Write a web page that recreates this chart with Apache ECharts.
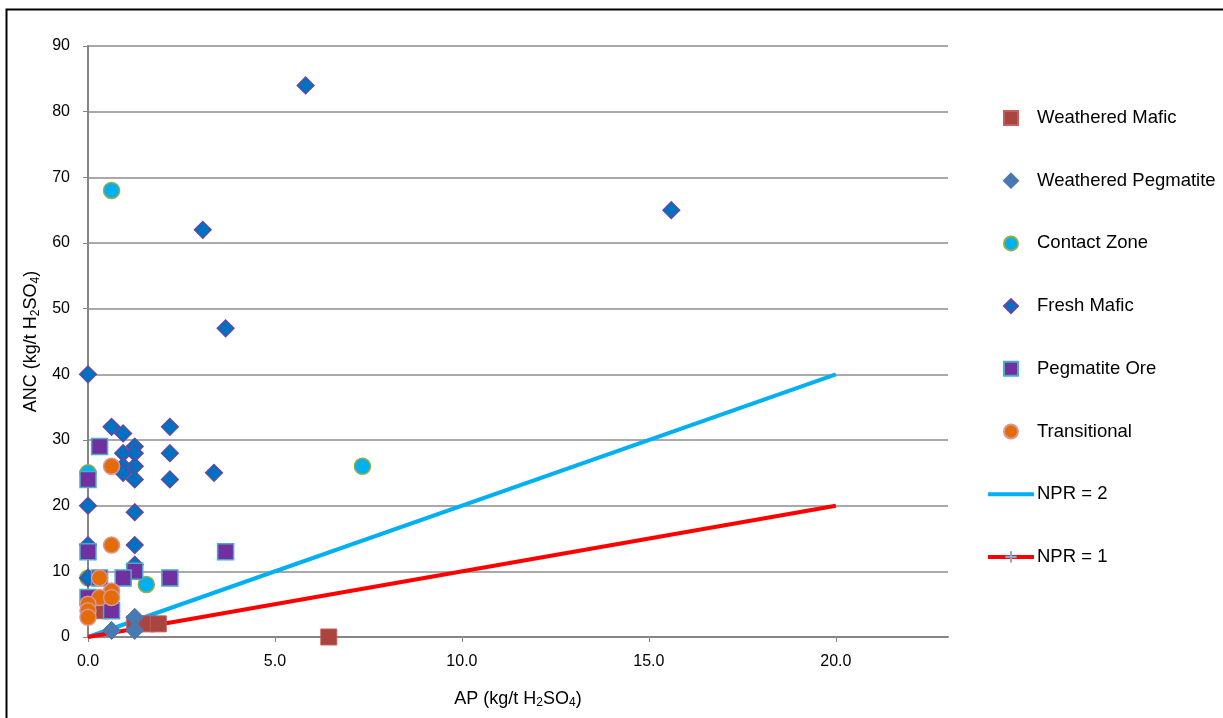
<!DOCTYPE html>
<html>
<head>
<meta charset="utf-8">
<script src="https://cdn.jsdelivr.net/npm/echarts@6/dist/echarts.min.js"></script>
<style>
html,body{margin:0;padding:0;background:#fff;}
#c{width:1223px;height:718px;}
</style>
</head>
<body>
<div id="c"></div>
<script>
// Data: [AP, ANC]
const weatheredMafic = [[0.31,4],[1.25,2],[1.56,2],[1.88,2],[6.44,0]];
const weatheredPegmatite = [[0.63,1],[1.25,3],[1.25,1]];
const contactZone = [[0.63,68],[7.34,26],[0,25],[1.56,8],[0,9]];
const freshMafic = [[5.82,84],[15.6,65],[3.07,62],[3.68,47],[0,40],[0.63,32],[0.94,31],[2.19,32],
  [1.25,29],[0.94,28],[1.25,28],[2.19,28],[1.25,26],[0.94,26],[0.94,25],[1.25,24],[2.19,24],[3.37,25],
  [0,20],[1.25,19],[0,14],[1.25,14],[1.25,11],[0,9]];
const pegmatiteOre = [[0.31,29],[0,24],[0,13],[3.68,13],[2.19,9],[1.25,10],[0.31,9],[0.94,9],[0,6],[0.63,4]];
const transitional = [[0.63,26],[0.63,14],[0.31,9],[0.63,7],[0.31,6],[0.63,6],[0,5],[0,4],[0,3]];
const npr2 = [[0,0],[20,40]];
const npr1 = [[0,0],[20,20]];
const seriesNames = ['Weathered Mafic','Weathered Pegmatite','Contact Zone','Fresh Mafic','Pegmatite Ore','Transitional','NPR = 2','NPR = 1'];

const FONT = 'Liberation Sans, Arial, sans-serif';
const chart = echarts.init(document.getElementById('c'), null, {renderer:'canvas'});

const SQUARE = 'path://M0,0H10V10H0Z';
const DIAMOND = 'path://M5,0L10,5L5,10L0,5Z';

function sc(name, data, symbol, size, fill, border, bw){
  return {
    type:'scatter', name, data, symbol, symbolSize:size, z:3,
    itemStyle:{color:fill, borderColor:border, borderWidth:bw, opacity:1},
    emphasis:{disabled:true}
  };
}

const legendIcons = [SQUARE, DIAMOND, null, DIAMOND, SQUARE, null, 'path://M0,0H46V4H0Z', null];
const legendData = seriesNames.map((n, i) => legendIcons[i] ? {name:n, icon:legendIcons[i]} : {name:n});

const option = {
  animation:false,
  backgroundColor:'#fff',
  graphic:[{type:'rect', left:4, top:7, shape:{width:1240, height:720}, style:{fill:'none', stroke:'#000', lineWidth:2}, z:100}],
  grid:{left:88, right:275, top:46, bottom:81, containLabel:false},
  xAxis:{
    type:'value', min:0, max:23, interval:5,
    name:'{a|AP (kg/t H}{s|2}{a|SO}{s|4}{a|)}',
    nameLocation:'middle', nameGap:52,
    nameTextStyle:{rich:{a:{fontFamily:FONT, fontSize:18, color:'#000'}, s:{fontFamily:FONT, fontSize:12, color:'#000', verticalAlign:'bottom', padding:[8,0,0,0]}}},
    axisLine:{show:true, onZero:false, lineStyle:{color:'#868686', width:2}},
    axisTick:{show:true, inside:false, length:5, lineStyle:{color:'#868686', width:1}},
    axisLabel:{fontFamily:FONT, fontSize:16, color:'#000', margin:17, showMaxLabel:false,
      formatter:(v)=> v.toFixed(1)},
    splitLine:{show:false}
  },
  yAxis:{
    type:'value', min:0, max:90, interval:10,
    name:'{a|ANC (kg/t H}{s|2}{a|SO}{s|4}{a|)}',
    nameLocation:'middle', nameGap:45, nameRotate:90,
    nameTextStyle:{rich:{a:{fontFamily:FONT, fontSize:18, color:'#000'}, s:{fontFamily:FONT, fontSize:12, color:'#000', verticalAlign:'bottom', padding:[8,0,0,0]}}},
    axisLine:{show:true, onZero:false, lineStyle:{color:'#868686', width:2}},
    axisTick:{show:true, inside:false, length:5, lineStyle:{color:'#868686', width:1}},
    axisLabel:{fontFamily:FONT, fontSize:16, color:'#000', margin:18},
    splitLine:{show:true, lineStyle:{color:'#8c8c8c', width:1.5}}
  },
  legend:{
    orient:'vertical', left:986, top:108, padding:0, itemWidth:46, itemHeight:14, itemGap:42.7,
    symbolKeepAspect:true,
    lineStyle:{width:'inherit'},
    data:legendData,
    textStyle:{fontFamily:FONT, fontSize:18.5, color:'#000', lineHeight:20, padding:[0,0,0,-2]},
    selectedMode:false
  },
  series:[
    sc(seriesNames[0], weatheredMafic, 'rect', 16, '#A9443F', '#C0605B', 1),
    sc(seriesNames[1], weatheredPegmatite, 'diamond', 18, '#4A78B0', '#4A78B0', 1),
    sc(seriesNames[2], contactZone, 'circle', 16, '#00B0F0', '#8FAE48', 1.5),
    sc(seriesNames[3], freshMafic, 'diamond', 17, '#0070C0', '#7040A0', 1.2),
    sc(seriesNames[4], pegmatiteOre, 'rect', 16, '#7030A0', '#4BACC6', 1.5),
    sc(seriesNames[5], transitional, 'circle', 16, '#E36C09', '#D99694', 1.5),
    {type:'line', name:seriesNames[6], data:npr2, z:2, symbol:'none', showSymbol:false,
      lineStyle:{color:'#00B0F0', width:4}, itemStyle:{color:'#00B0F0'}, emphasis:{disabled:true}},
    {type:'line', name:seriesNames[7], data:npr1, z:2, showSymbol:false,
      symbol:'path://M4,0H6V4H10V6H6V10H4V6H0V4H4Z', symbolSize:13,
      lineStyle:{color:'#FF0000', width:4}, itemStyle:{color:'#8EA9D0'}, emphasis:{disabled:true}}
  ]
};
chart.setOption(option);
</script>
</body>
</html>
